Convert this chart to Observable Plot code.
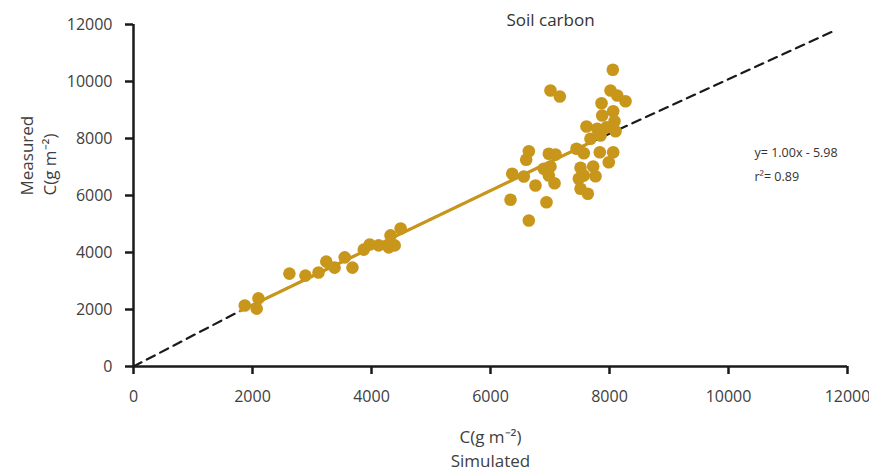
<!DOCTYPE html>
<html><head><meta charset="utf-8">
<script src="https://cdn.jsdelivr.net/npm/d3@7"></script>
<script src="https://cdn.jsdelivr.net/npm/@observablehq/plot@0.6"></script>
<style>body{margin:0;background:#fff;}</style>
</head><body><div id="chart"></div>
<script>
const title = "Soil carbon";
const simulated = [1870, 2070, 2100, 2620, 2890, 3110, 3240, 3380, 3550, 3680, 3870, 3970, 4120, 4290, 4320, 4390, 4490,
  8056, 7008, 7165, 8017, 8130, 8269, 7866, 8062, 7877, 8084, 7613, 7793, 7950, 8101, 7680, 7849, 7445, 7568, 7837, 8062, 7988,
  6644, 6600, 6980, 7093, 6365, 6560, 6896, 7008, 6980, 6756, 7076, 7513, 7726, 7568, 7765, 7484, 7513, 7636, 6336, 6941, 6644];
const measured = [2140, 2030, 2390, 3260, 3190, 3300, 3680, 3470, 3830, 3470, 4100, 4280, 4250, 4180, 4600, 4250, 4840,
  10411, 9684, 9474, 9684, 9509, 9309, 9239, 8958, 8807, 8607, 8421, 8340, 8397, 8256, 7990, 8105, 7639, 7484, 7519, 7519, 7168,
  7554, 7253, 7463, 7439, 6762, 6667, 6937, 7018, 6702, 6351, 6432, 6972, 7018, 6702, 6677, 6586, 6235, 6060, 5849, 5765, 5123];
// dashed reference line (joins the fitted segment)
const refLineX = [0, 1800, 7700, 11800];
const refLineY = [0, 1960, 7880, 11800];
// fitted line (y = 1.00x - 5.98), as drawn in the picture
const fitX = [1800, 7700];
const fitY = [1960, 7880];
const xTicks = [0, 2000, 4000, 6000, 8000, 10000, 12000];
const yTicks = [0, 2000, 4000, 6000, 8000, 10000, 12000];
const xLabel1 = "C(g m\u207B\u00B2)";
const xLabel2 = "Simulated";
const yLabel = "Measured\nC(g m\u207B\u00B2)";
const eqText = "y= 1.00x - 5.98";
const r2Text = "r\u00B2= 0.89";

const gold = "#c8961a";
const ink = "#1a1a1a";
const textCol = "#404040";

const points = simulated.map((x, i) => ({x, y: measured[i]}));
const diag = refLineX.map((x, i) => ({x, y: refLineY[i]}));
const fit = fitX.map((x, i) => ({x, y: fitY[i]}));

const chart = Plot.plot({
  width: 869, height: 472,
  marginLeft: 133, marginRight: 22, marginTop: 24, marginBottom: 106,
  style: {fontFamily: "'Open Sans', sans-serif", fontSize: "16px", color: textCol, background: "#fff"},
  x: {domain: [0, 12000]},
  y: {domain: [0, 12000]},
  marks: [
    Plot.line(diag, {x: "x", y: "y", stroke: ink, strokeWidth: 2.2, strokeDasharray: "9,6"}),
    Plot.line(fit, {x: "x", y: "y", stroke: gold, strokeWidth: 3.2}),
    Plot.dot(points, {x: "x", y: "y", r: 6.3, fill: gold, stroke: "none"}),
    Plot.axisX({ticks: xTicks, tickFormat: d => String(d), tickSize: 8, tickPadding: 16, stroke: ink, strokeWidth: 2.5, fill: textCol, fontSize: 16, label: null}),
    Plot.axisY({ticks: yTicks, tickFormat: d => String(d), tickSize: 8, tickPadding: 13, stroke: ink, strokeWidth: 2.5, fill: textCol, fontSize: 16, label: null}),
    Plot.ruleY([0], {stroke: ink, strokeWidth: 2.5}),
    Plot.ruleX([0], {stroke: ink, strokeWidth: 2.5}),
    Plot.text([title], {frameAnchor: "top", dx: 60, dy: -4, lineAnchor: "middle", fontSize: 17, fill: "#333"}),
    Plot.text([xLabel1], {frameAnchor: "bottom", dy: 71, lineAnchor: "middle", fontSize: 17, fill: textCol}),
    Plot.text([xLabel2], {frameAnchor: "bottom", dy: 95, lineAnchor: "middle", fontSize: 17, fill: textCol}),
    Plot.text([yLabel], {frameAnchor: "left", dx: -96, rotate: -90, fontSize: 17, lineHeight: 1.35, fill: textCol}),
    Plot.text([eqText], {frameAnchor: "top-left", dx: 621, dy: 128, lineAnchor: "middle", textAnchor: "start", fontSize: 12.5, fill: "#333"}),
    Plot.text([r2Text], {frameAnchor: "top-left", dx: 621, dy: 152, lineAnchor: "middle", textAnchor: "start", fontSize: 12.5, fill: "#333"})
  ]
});
document.getElementById("chart").appendChild(chart);
</script>
</body></html>
